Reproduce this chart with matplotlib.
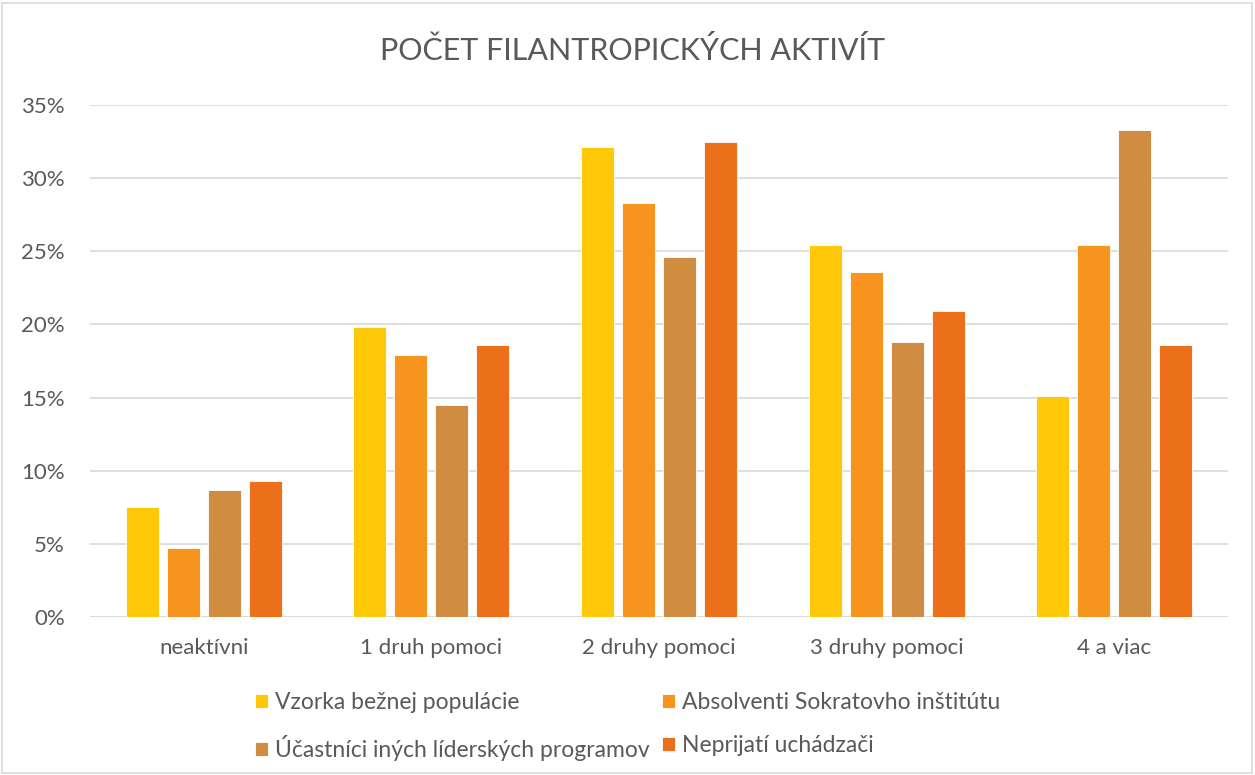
import matplotlib
matplotlib.use("Agg")
import matplotlib.pyplot as plt
import numpy as np
from matplotlib.patches import Rectangle

plt.rcParams['font.family'] = ['Lato', 'DejaVu Sans']

categories = ["neaktívni", "1 druh pomoci", "2 druhy pomoci", "3 druhy pomoci", "4 a viac"]
series_names = ["Vzorka bežnej populácie", "Absolventi Sokratovho inštitútu",
                "Účastníci iných lídersk\u00fdch programov", "Neprijatí uchádzači"]
vzorka = [7.5, 19.8, 32.1, 25.4, 15.1]
absolventi = [4.7, 17.9, 28.3, 23.6, 25.4]
ucastnici = [8.7, 14.5, 24.6, 18.8, 33.3]
neprijati = [9.3, 18.6, 32.5, 20.9, 18.6]
yticks = [0, 5, 10, 15, 20, 25, 30, 35]
colors = ["#FFC90A", "#F7941D", "#D08C40", "#EC7019"]

W, H = 1255, 775
fig = plt.figure(figsize=(W/100, H/100), dpi=100)
ax = fig.add_axes([90/W, 1-617/H, (1228-90)/W, (617-105)/H])

x = np.arange(len(categories))
data = [vzorka, absolventi, ucastnici, neprijati]
bw = 0.145
step = 0.18
handles = []
for i, (vals, c, name) in enumerate(zip(data, colors, series_names)):
    b = ax.bar(x + (i-1.5)*step, vals, width=bw, color=c, label=name, zorder=3,
               edgecolor='white', linewidth=0.6)
    handles.append(b)

ax.set_xlim(-0.5, len(categories)-0.5)
ax.set_ylim(0, 35)
ax.set_yticks(yticks)
ax.set_yticklabels([f"{t}%" for t in yticks])
ax.set_xticks(x)
ax.set_xticklabels(categories)
ax.grid(axis='y', color='#D9D9D9', linewidth=1.2, zorder=0)
for s in ax.spines.values():
    s.set_visible(False)
ax.tick_params(axis='both', length=0, labelsize=16, colors='#595959')
ax.tick_params(axis='x', pad=15)
ax.tick_params(axis='y', pad=18)
ax.axhline(0, color='#D9D9D9', linewidth=1.2, zorder=1)

fig.text(633/W, 1-50/H, "POČET FILANTROPICKÝCH AKTIVÍT", ha='center', va='center',
         fontsize=22, color='#595959')

order = [0, 2, 1, 3]
leg = fig.legend([handles[i] for i in order], [series_names[i] for i in order],
                 loc='upper left', bbox_to_anchor=(255/W, 1-692/H), ncol=2, frameon=False,
                 fontsize=16.5, labelcolor='#595959', handlelength=0.57, handleheight=0.57,
                 handletextpad=0.3, columnspacing=0.55, labelspacing=0.95,
                 borderaxespad=0, borderpad=0)

fig.patches.append(Rectangle((2/W, 2/H), 1-5/W, 1-5/H, transform=fig.transFigure,
                             fill=False, edgecolor='#D9D9D9', linewidth=1.2))

fig.savefig("out.png", dpi=100, facecolor='white')
